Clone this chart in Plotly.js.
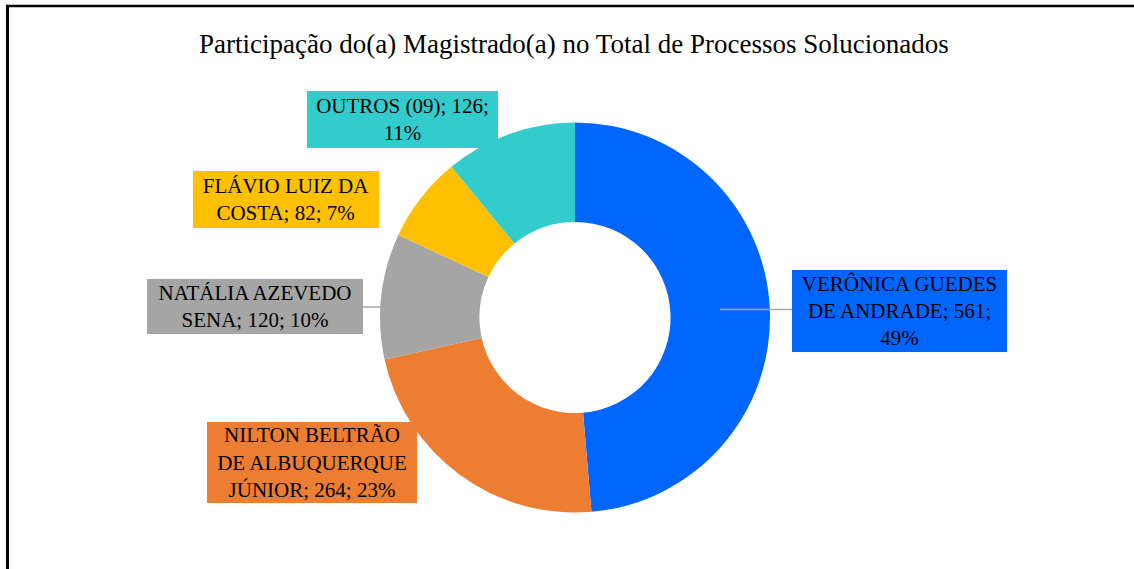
<!DOCTYPE html>
<html>
<head>
<meta charset="utf-8">
<script src="https://cdn.plot.ly/plotly-3.0.1.min.js"></script>
<style>
html,body{margin:0;padding:0;background:#fff;}
#chart{width:1134px;height:569px;}
</style>
</head>
<body>
<div id="chart"></div>
<script>
// ---- data ----
const names = ["VERÔNICA GUEDES DE ANDRADE", "NILTON BELTRÃO DE ALBUQUERQUE JÚNIOR", "NATÁLIA AZEVEDO SENA", "FLÁVIO LUIZ DA COSTA", "OUTROS (09)"];
const values = [561, 264, 120, 82, 126];
const colors = ["#0066FF", "#ED7D31", "#A5A5A5", "#FFC000", "#33CCCC"];
// label text as wrapped in the reference (%v = value, %p = percentage)
const boxTemplates = [
  "VERÔNICA GUEDES<br>DE ANDRADE; %v;<br>%p",
  "NILTON BELTRÃO<br>DE ALBUQUERQUE<br>JÚNIOR; %v; %p",
  "NATÁLIA AZEVEDO<br>SENA; %v; %p",
  "FLÁVIO LUIZ DA<br>COSTA; %v; %p",
  "OUTROS (09); %v;<br>%p"
];
const titleText = "Participação do(a) Magistrado(a) no Total de Processos Solucionados";

// ---- layout helpers (pixel geometry) ----
const W = 1134, H = 569;
const px = x => x / W;
const py = y => 1 - y / H;
const cx = 575, cy = 317.5, R = 195;
const SERIF = '"Liberation Serif", "Times New Roman", Times, serif';

// label box centres & sizes [cx, cy, w, h]
const boxes = [
  [899.5, 311, 215, 82],
  [312, 462.5, 210, 81],
  [255, 306.5, 216, 55],
  [286, 199.5, 186, 57],
  [402.5, 119.5, 191, 57]
];

const total = values.reduce((a, b) => a + b, 0);
const annotations = values.map((v, i) => {
  const pct = Math.round(v / total * 100) + "%";
  const b = boxes[i];
  return {
    xref: "paper", yref: "paper",
    x: px(b[0]), y: py(b[1]),
    xanchor: "center", yanchor: "middle",
    width: b[2], height: b[3],
    borderpad: 0, borderwidth: 0,
    bgcolor: colors[i],
    showarrow: false,
    align: "center",
    valign: "middle",
    text: boxTemplates[i].replace("%v", v).replace("%p", pct),
    font: {family: SERIF, size: 21, color: "#000"}
  };
});
annotations.push({
  xref: "paper", yref: "paper", x: px(574), y: py(44),
  xanchor: "center", yanchor: "middle", showarrow: false,
  text: titleText,
  font: {family: SERIF, size: 27, color: "#000"}
});

const shapes = [
  // leader lines
  {type: "line", xref: "paper", yref: "paper", x0: px(720), x1: px(792), y0: py(309.5), y1: py(309.5), line: {color: "#A6A6A6", width: 1.5}},
  {type: "line", xref: "paper", yref: "paper", x0: px(363), x1: px(384), y0: py(307), y1: py(307), line: {color: "#A6A6A6", width: 1.5}},
  // frame
  {type: "line", xref: "paper", yref: "paper", x0: px(6), x1: px(1134), y0: py(6), y1: py(6), line: {color: "#000", width: 2.5}},
  {type: "line", xref: "paper", yref: "paper", x0: px(7.5), x1: px(7.5), y0: py(5), y1: py(569), line: {color: "#000", width: 3}}
];

const trace = {
  type: "pie",
  labels: names,
  values: values,
  marker: {colors: colors, line: {width: 0}},
  hole: 0.49,
  sort: false,
  direction: "clockwise",
  rotation: 0,
  textinfo: "none",
  hoverinfo: "label+value+percent",
  showlegend: false,
  domain: {x: [px(cx - R), px(cx + R)], y: [py(cy + R), py(cy - R)]}
};

Plotly.newPlot("chart", [trace], {
  width: W, height: H,
  margin: {l: 0, r: 0, t: 0, b: 0},
  paper_bgcolor: "#fff",
  font: {family: SERIF},
  showlegend: false,
  annotations: annotations,
  shapes: shapes
}, {displayModeBar: false, staticPlot: true});
</script>
</body>
</html>
